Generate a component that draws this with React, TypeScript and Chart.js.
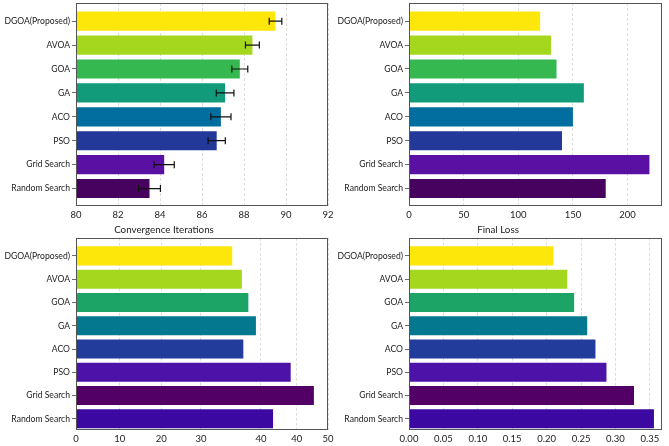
import { useEffect, useRef } from "react";
import { Chart, registerables } from "chart.js";

Chart.register(...registerables);

// ---- data ----
const methods = [
  "DGOA(Proposed)",
  "AVOA",
  "GOA",
  "GA",
  "ACO",
  "PSO",
  "Grid Search",
  "Random Search",
];

// accuracy (%) with spread
const accuracy = [89.5, 88.4, 87.8, 87.1, 86.9, 86.7, 84.2, 83.5];
const accuracyErr = [0.3, 0.33, 0.38, 0.42, 0.48, 0.41, 0.48, 0.52];

// run time
const runTime = [120, 130, 135, 160, 150, 140, 220, 180];

// convergence iterations
const iterations = [31.0, 32.9, 34.2, 35.7, 33.2, 42.6, 47.2, 39.1];
const iterTickValues = [0, 8.7, 16.9, 24.8, 36.7, 43.8, 50];
const iterTickLabels = ["0", "10", "20", "30", "40", "40", "50"];

// final loss
const finalLoss = [0.21, 0.23, 0.24, 0.259, 0.271, 0.287, 0.327, 0.356];

const accTicks = [80, 82, 84, 86, 88, 90, 92];
const timeTicks = [0, 50, 100, 150, 200];
const lossTicks = [0, 0.05, 0.1, 0.15, 0.2, 0.25, 0.3, 0.35];

// ---- styles ----
const topColors = [
  "#fde60a",
  "#a6d71f",
  "#35b84f",
  "#129b7b",
  "#026ea0",
  "#22399a",
  "#5a10a3",
  "#47015e",
];
const bottomColors = [
  "#fde60a",
  "#a6d71f",
  "#1ca466",
  "#04788e",
  "#223c9c",
  "#4d12a8",
  "#520066",
  "#3b08a2",
];

const FONT_FAMILY = "Lato, 'Open Sans', sans-serif";
const TEXT = "#222";

const framePlugin = {
  id: "frame",
  afterDraw(chart: any) {
    const { ctx, chartArea: a } = chart;
    ctx.save();
    ctx.strokeStyle = "#555";
    ctx.lineWidth = 1;
    const l = Math.round(a.left) + 0.5;
    const t = Math.round(a.top) + 0.5;
    const r = Math.round(a.right) - 0.5;
    const b = Math.round(a.bottom) - 0.5;
    ctx.strokeRect(l, t, r - l, b - t);
    ctx.restore();
  },
};

function errorBarPlugin(values: number[], errs: number[]) {
  return {
    id: "errorBars",
    afterDatasetsDraw(chart: any) {
      const { ctx } = chart;
      const xs = chart.scales.x;
      const ys = chart.scales.y;
      ctx.save();
      ctx.strokeStyle = "#111";
      ctx.lineWidth = 1.2;
      values.forEach((v, i) => {
        const x0 = xs.getPixelForValue(v - errs[i]);
        const x1 = xs.getPixelForValue(v + errs[i]);
        const y = ys.getPixelForValue(i);
        const cap = 3.5;
        ctx.beginPath();
        ctx.moveTo(x0, y);
        ctx.lineTo(x1, y);
        ctx.moveTo(x0, y - cap);
        ctx.lineTo(x0, y + cap);
        ctx.moveTo(x1, y - cap);
        ctx.lineTo(x1, y + cap);
        ctx.stroke();
      });
      ctx.restore();
    },
  };
}

interface PanelSpec {
  left: number;
  top: number;
  width: number;
  height: number;
  values: number[];
  colors: string[];
  xMin: number;
  xMax: number;
  xTicks: number[];
  xLabels: string[];
  yMin: number;
  yMax: number;
  yAxisWidth: number;
  xAxisHeight: number;
  padTop: number;
  padRight: number;
  barPct: number;
  title?: string;
  errors?: number[];
}

function buildConfig(p: PanelSpec): any {
  const xFont = { family: FONT_FAMILY, size: 9.5 };
  const yFont = { family: FONT_FAMILY, size: 8.6 };
  const plugins: any[] = [framePlugin];
  if (p.errors) plugins.push(errorBarPlugin(p.values, p.errors));
  return {
    type: "bar",
    data: {
      datasets: [
        {
          data: p.values.map((v, i) => ({ x: v, y: i })),
          backgroundColor: p.colors,
          borderWidth: 0,
          barPercentage: p.barPct,
          categoryPercentage: 1,
        },
      ],
    },
    options: {
      animation: false,
      responsive: false,
      indexAxis: "y",
      layout: { padding: { top: p.padTop, right: p.padRight, left: 0, bottom: 0 } },
      plugins: {
        legend: { display: false },
        tooltip: { enabled: false },
        title: p.title
          ? {
              display: true,
              text: p.title,
              color: TEXT,
              font: { family: FONT_FAMILY, size: 9.8, weight: "normal" },
              padding: { top: 1, bottom: 2 },
            }
          : { display: false },
      },
      scales: {
        x: {
          type: "linear",
          offset: false,
          min: p.xMin,
          max: p.xMax,
          afterBuildTicks: (s: any) => {
            s.ticks = p.xTicks.map((v) => ({ value: v }));
          },
          afterFit: (s: any) => {
            s.height = p.xAxisHeight;
            s.paddingLeft = 0;
            s.paddingRight = 0;
          },
          ticks: {
            autoSkip: false,
            maxRotation: 0,
            padding: 3,
            color: TEXT,
            font: xFont,
            callback: (_v: any, i: number) => p.xLabels[i],
          },
          grid: { color: "#d4d4d4", lineWidth: 0.8, drawTicks: false, offset: false },
          border: { display: false, dash: [3, 2] },
        },
        y: {
          type: "linear",
          offset: false,
          reverse: true,
          min: p.yMin,
          max: p.yMax,
          afterBuildTicks: (s: any) => {
            s.ticks = methods.map((_, i) => ({ value: i }));
          },
          afterFit: (s: any) => {
            s.width = p.yAxisWidth;
            s.paddingTop = 0;
            s.paddingBottom = 0;
          },
          ticks: {
            autoSkip: false,
            padding: 2,
            color: TEXT,
            font: yFont,
            callback: (v: any) => methods[Math.round(v)],
          },
          grid: {
            offset: false,
            drawOnChartArea: false,
            drawTicks: true,
            tickLength: 4,
            tickColor: "#444",
            tickWidth: 0.8,
          },
          border: { display: false },
        },
      },
    },
    plugins,
  };
}

function Panel({ spec }: { spec: PanelSpec }) {
  const ref = useRef<HTMLCanvasElement | null>(null);
  useEffect(() => {
    if (!ref.current) return;
    const chart = new Chart(ref.current, buildConfig(spec));
    return () => chart.destroy();
  }, [spec]);
  return (
    <canvas
      ref={ref}
      width={spec.width}
      height={spec.height}
      style={{
        position: "absolute",
        left: spec.left,
        top: spec.top,
        width: spec.width,
        height: spec.height,
      }}
    />
  );
}

const panels: PanelSpec[] = [
  {
    left: 0,
    top: 0,
    width: 334,
    height: 223,
    values: accuracy,
    errors: accuracyErr,
    colors: topColors,
    xMin: 80,
    xMax: 92,
    xTicks: accTicks,
    xLabels: accTicks.map(String),
    yMin: -0.76,
    yMax: 7.73,
    yAxisWidth: 76,
    xAxisHeight: 17,
    padTop: 3,
    padRight: 6,
    barPct: 0.8,
  },
  {
    left: 334,
    top: 0,
    width: 335,
    height: 223,
    values: runTime,
    colors: topColors,
    xMin: 0,
    xMax: 231.5,
    xTicks: timeTicks,
    xLabels: timeTicks.map(String),
    yMin: -0.76,
    yMax: 7.73,
    yAxisWidth: 75,
    xAxisHeight: 17,
    padTop: 3,
    padRight: 7,
    barPct: 0.8,
  },
  {
    left: 0,
    top: 223,
    width: 334,
    height: 223,
    values: iterations,
    colors: bottomColors,
    xMin: 0,
    xMax: 50,
    xTicks: iterTickValues,
    xLabels: iterTickLabels,
    yMin: -0.78,
    yMax: 7.48,
    yAxisWidth: 76,
    xAxisHeight: 16,
    padTop: 0,
    padRight: 6,
    barPct: 0.82,
    title: "Convergence Iterations",
  },
  {
    left: 334,
    top: 223,
    width: 335,
    height: 223,
    values: finalLoss,
    colors: bottomColors,
    xMin: 0,
    xMax: 0.3677,
    xTicks: lossTicks,
    xLabels: lossTicks.map((v) => v.toFixed(2)),
    yMin: -0.78,
    yMax: 7.48,
    yAxisWidth: 75,
    xAxisHeight: 16,
    padTop: 0,
    padRight: 7,
    barPct: 0.82,
    title: "Final Loss",
  },
];

export default function App() {
  return (
    <div
      style={{
        position: "absolute",
        left: 0,
        top: 0,
        width: 669,
        height: 446,
        background: "#fff",
        overflow: "hidden",
      }}
    >
      {panels.map((p, i) => (
        <Panel key={i} spec={p} />
      ))}
    </div>
  );
}
